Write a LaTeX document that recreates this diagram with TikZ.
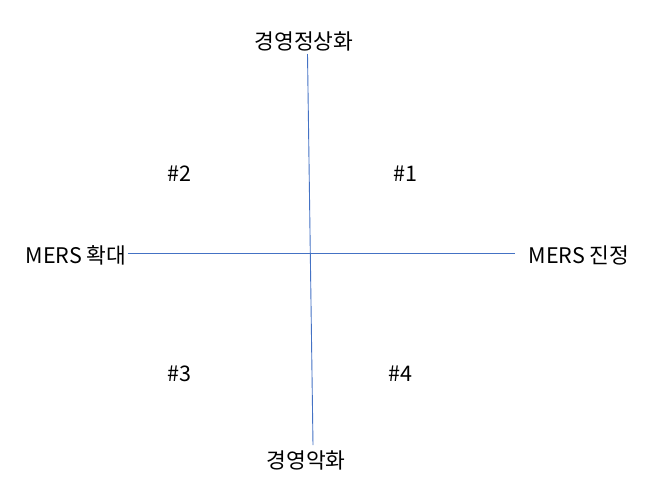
\documentclass[tikz,border=0pt]{standalone}
\usepackage{fontspec}
\setmainfont{Noto Sans CJK KR}
\usepackage{xcolor}
\definecolor{axisblue}{HTML}{4472C4}

\begin{document}
\begin{tikzpicture} [
    x=1pt, y=-1pt,
    tag/.style  = { font=\fontsize{21.5}{24}\selectfont, inner sep=1pt, anchor=base },
    axis/.style = { draw=axisblue, line width=0.9pt },
  ]
  \useasboundingbox (0,0) rectangle (646,501);
  % axis ends
  \node (good) [tag] at (304,49) {경영정상화};
  \node (bad)  [tag] at (306,468) {경영악화};
  \node (wide) [tag] at (76,263) {MERS 확대};
  \node (calm) [tag] at (579,263) {MERS 진정};
  % quadrants
  \node (q1) [tag] at (405,181) {\#1};
  \node (q2) [tag] at (179,181) {\#2};
  \node (q3) [tag] at (179,381) {\#3};
  \node (q4) [tag] at (400,381) {\#4};

  \coordinate (top)    at (307.5,54);
  \coordinate (bottom) at (313,445);
  \coordinate (left)   at (128,253);
  \coordinate (right)  at (515,253);

  \draw[axis] (top) -- (bottom);
  \draw[axis] (left) -- (right);
\end{tikzpicture}
\end{document}
